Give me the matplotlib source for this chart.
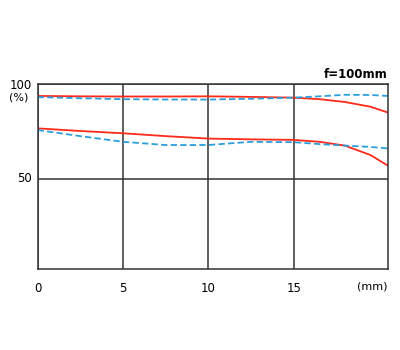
import matplotlib.pyplot as plt

# image height (mm) and MTF values (%)
x_mm = [0, 2.5, 5, 7.5, 10, 12.5, 15, 16.5, 18, 19.5, 20.5]
red_high = [93.7, 93.5, 93.4, 93.4, 93.5, 93.2, 92.8, 92.0, 90.5, 88.0, 85.0]
blue_high = [93.1, 92.5, 92.0, 91.8, 91.8, 92.2, 92.8, 93.5, 94.3, 94.2, 93.7]
red_low = [76.6, 75.2, 74.0, 72.5, 71.2, 70.8, 70.5, 69.5, 67.5, 62.5, 57.0]
blue_low = [75.7, 72.5, 69.5, 67.8, 67.8, 69.5, 69.3, 68.3, 67.5, 66.8, 66.0]

x_ticks = [0, 5, 10, 15]
y_ticks = [50, 100]

plt.rcParams['font.family'] = ['DejaVu Sans']

fig = plt.figure(figsize=(4, 3.5), dpi=100)
ax = fig.add_axes([0.094, 0.231, 0.875, 0.529])

red = '#ff2a1a'
blue = '#2a9fdc'
ax.plot(x_mm, red_high, color=red, lw=1.3)
ax.plot(x_mm, red_low, color=red, lw=1.3)
ax.plot(x_mm, blue_high, color=blue, lw=1.3, ls=(0, (3.5, 1.8)))
ax.plot(x_mm, blue_low, color=blue, lw=1.3, ls=(0, (3.5, 1.8)))

ax.set_xlim(0, 20.5)
ax.set_ylim(2.3, 100)
ax.set_xticks(x_ticks)
ax.set_yticks(y_ticks)
ax.set_xticklabels([str(t) for t in x_ticks])
ax.set_yticklabels([])
ax.grid(True, color='#333333', lw=1.1)
for s in ax.spines.values():
    s.set_color('#333333')
    s.set_linewidth(1.1)
ax.tick_params(length=0, labelsize=8.5, pad=9)
ax.set_axisbelow(True)

# y labels placed by hand like the original
ax.text(-0.35, 99, '100', ha='right', va='center', fontsize=8.5, clip_on=False)
ax.text(-0.55, 93, '(%)', ha='right', va='center', fontsize=8, clip_on=False)
ax.text(-0.35, 50, '50', ha='right', va='center', fontsize=8.5, clip_on=False)
ax.text(20.5, -6.8, '(mm)', ha='right', va='center', fontsize=8, clip_on=False)
ax.text(20.5, 101.8, 'f=100mm', ha='right', va='bottom', fontsize=8.5,
        fontweight='bold', clip_on=False)

fig.savefig('out.png', dpi=100)
